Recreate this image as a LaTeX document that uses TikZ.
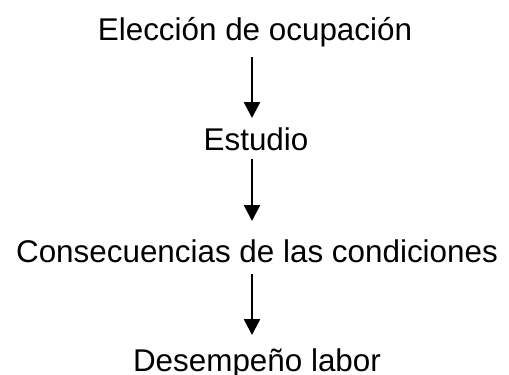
\documentclass[tikz,border=0pt]{standalone}
\usepackage{fontspec}
\setmainfont{Liberation Sans}
\usetikzlibrary{arrows.meta}
\begin{document}
\begin{tikzpicture}[x=1pt,y=1pt,
  lbl/.style={anchor=base,inner sep=0pt,font=\fontsize{31.4}{36}\selectfont},
  arr/.style={line width=2.6pt,-{Triangle[width=16pt,length=16pt]}}]
\useasboundingbox[fill=white] (0,0) rectangle (509,-375);
\coordinate (ax) at (252,0);
\node[lbl] (e) at (255,-40) {Elección de ocupación};
\node[lbl] (s) at (256,-150) {Estudio};
\node[lbl] (c) at (257,-262) {Consecuencias de las condiciones};
\node[lbl] (d) at (257,-371) {Desempeño labor};
\draw[arr] ([yshift=-17pt]e.base -| ax) -- ([yshift=32pt]s.base -| ax);
\draw[arr] ([yshift=-9pt]s.base -| ax) -- ([yshift=41pt]c.base -| ax);
\draw[arr] ([yshift=-12pt]c.base -| ax) -- ([yshift=36pt]d.base -| ax);
\end{tikzpicture}
\end{document}
